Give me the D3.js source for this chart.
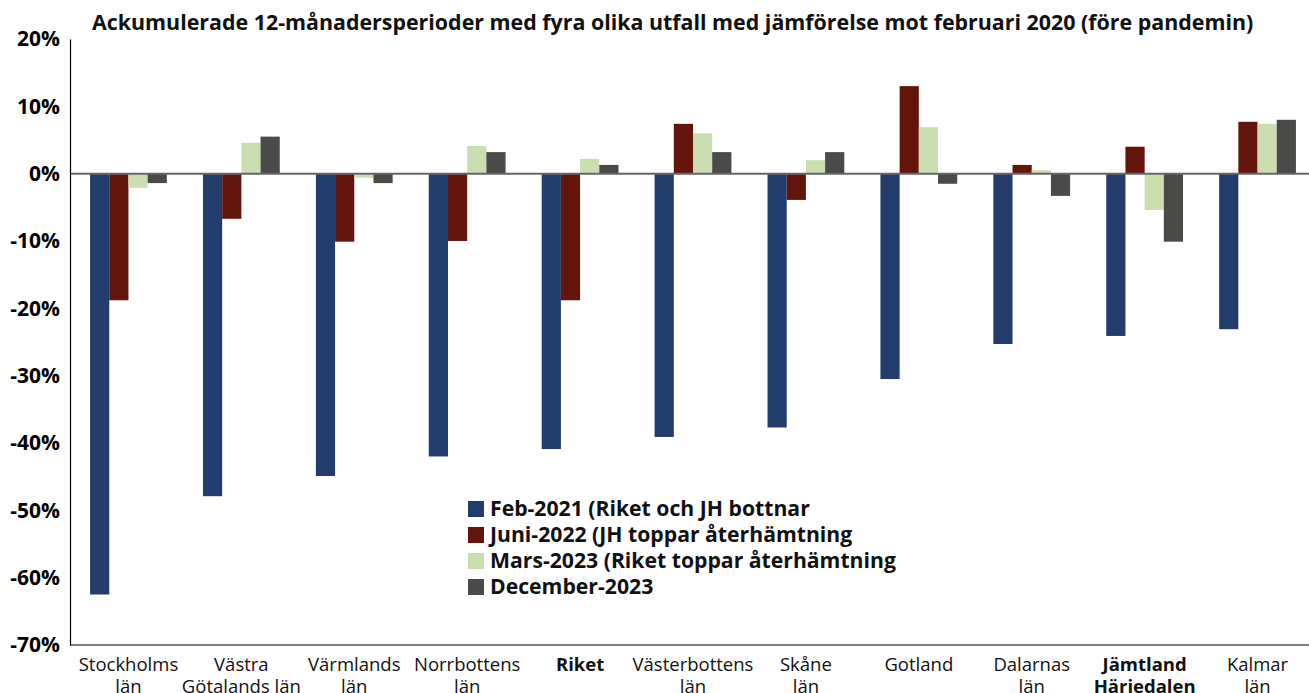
<!DOCTYPE html>
<html>
<head>
<meta charset="utf-8">
<script src="https://cdn.jsdelivr.net/npm/d3@7"></script>
<style>
	body{ margin:0; background:#fff; }
	svg{ display:block; font-family:"Open Sans", "Noto Sans", sans-serif; }
</style>
</head>
<body>
<div class="data_display"></div>
<script>
var w = 1309;
var h = 693;

var title = "Ackumulerade 12-månadersperioder med fyra olika utfall med jämförelse mot februari 2020 (före pandemin)";

//Categories (each label split into lines), bold ones flagged
var categories = [
	["Stockholms", "län"],
	["Västra", "Götalands län"],
	["Värmlands", "län"],
	["Norrbottens", "län"],
	["Riket"],
	["Västerbottens", "län"],
	["Skåne", "län"],
	["Gotland"],
	["Dalarnas", "län"],
	["Jämtland", "Härjedalen"],
	["Kalmar", "län"]
];
var boldCats = ["Riket", "Jämtland"];

var seriesNames = [
	"Feb-2021 (Riket och JH bottnar",
	"Juni-2022 (JH toppar återhämtning",
	"Mars-2023 (Riket toppar återhämtning",
	"December-2023"
];
var colors = ["#223c6b", "#63150c", "#cadeb0", "#4a4a48"];

//values in percent
var feb2021  = [-62.5, -47.9, -44.9, -42.0, -40.9, -39.1, -37.7, -30.5, -25.3, -24.1, -23.1];
var jun2022  = [-18.8, -6.7, -10.1, -10.0, -18.8, 7.4, -3.9, 13.0, 1.3, 4.0, 7.7];
var mar2023  = [-2.1, 4.6, -0.6, 4.1, 2.2, 6.0, 2.0, 6.9, 0.5, -5.4, 7.4];
var dec2023  = [-1.4, 5.5, -1.4, 3.2, 1.3, 3.2, 3.2, -1.5, -3.3, -10.1, 8.0];
var series = [feb2021, jun2022, mar2023, dec2023];

var yTicks = [20, 10, 0, -10, -20, -30, -40, -50, -60, -70];

var svg = d3.select(".data_display").append("svg")
	.attr("width", w)
	.attr("height", h);

var plotLeft = 70, plotRight = 1312, plotTop = 39, plotBottom = 645;

var catKeys = categories.map(function(c){ return c[0]; });

//groups sit ~2px right of a plain band layout in the reference
var x0 = d3.scaleBand()
	.domain(catKeys)
	.range([plotLeft + 2, plotRight + 2])
	.paddingInner(0.32)
	.paddingOuter(0.16);

var x1 = d3.scaleBand()
	.domain(d3.range(series.length))
	.range([0, x0.bandwidth()]);

var y = d3.scaleLinear()
	.domain([-70, 20])
	.range([plotBottom, plotTop]);

//Title
svg.append("text")
	.attr("x", 92)
	.attr("y", 30)
	.text(title)
	.style("font-size", "21.4px")
	.style("font-weight", "bold")
	.attr("fill", "#111");

//Bars
series.forEach(function(vals, s){
	svg.append("g").selectAll("rect")
		.data(vals)
		.enter()
		.append("rect")
		.attr("x", function(d, i){ return x0(catKeys[i]) + x1(s); })
		.attr("y", function(d){ return y(Math.max(0, d)); })
		.attr("width", x1.bandwidth())
		.attr("height", function(d){ return Math.abs(y(d) - y(0)); })
		.attr("fill", colors[s]);
});

//Zero line
svg.append("line")
	.attr("x1", plotLeft).attr("x2", w)
	.attr("y1", y(0)).attr("y2", y(0))
	.attr("stroke", "#666")
	.attr("stroke-width", 2);

//Y axis
var yAxis = d3.axisLeft(y)
	.tickValues(yTicks)
	.tickSize(0)
	.tickPadding(10)
	.tickFormat(function(d){ return d + "%"; });

var gy = svg.append("g")
	.attr("transform", "translate(" + plotLeft + ",0)")
	.call(yAxis);
gy.select(".domain").attr("stroke", "#000").attr("stroke-width", 1.2);
gy.selectAll("text")
	.style("font-size", "21px")
	.style("font-weight", "bold")
	.style("font-family", "'Open Sans', sans-serif")
	.attr("fill", "#000");

//Bottom axis line
svg.append("line")
	.attr("x1", plotLeft).attr("x2", w)
	.attr("y1", plotBottom).attr("y2", plotBottom)
	.attr("stroke", "#000")
	.attr("stroke-width", 1.2);

//Category labels (second line runs off the bottom, as in the original)
var labels = svg.append("g").selectAll("text")
	.data(categories)
	.enter()
	.append("text")
	.attr("text-anchor", "middle")
	.attr("x", function(d){ return x0(d[0]) + x0.bandwidth() / 2; })
	.attr("y", 671)
	.style("font-size", "18.5px")
	.style("font-weight", function(d){ return boldCats.indexOf(d[0]) >= 0 ? "bold" : "normal"; })
	.attr("fill", "#111");

labels.each(function(d){
	var t = d3.select(this);
	d.forEach(function(line, i){
		t.append("tspan")
			.attr("x", t.attr("x"))
			.attr("dy", i === 0 ? 0 : 22)
			.text(line);
	});
});

//Legend
var legend = svg.append("g").attr("transform", "translate(468,497)");
seriesNames.forEach(function(name, i){
	var row = legend.append("g").attr("transform", "translate(0," + (i * 26) + ")");
	row.append("rect")
		.attr("x", 0).attr("y", 4)
		.attr("width", 16).attr("height", 16)
		.attr("fill", colors[i]);
	row.append("text")
		.attr("x", 22)
		.attr("y", 19)
		.text(name)
		.style("font-size", "21.2px")
		.style("font-weight", "bold")
		.attr("fill", "#111");
});
</script>
</body>
</html>
